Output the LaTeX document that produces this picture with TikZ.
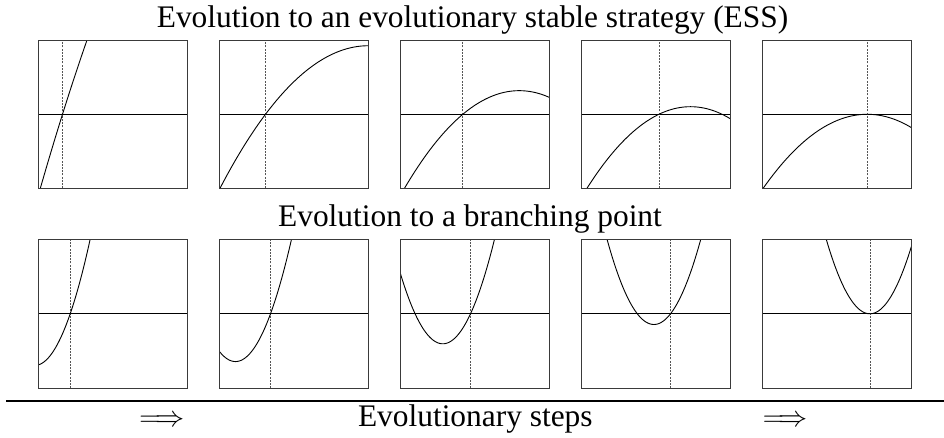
\RequirePackage{fix-cm}
\documentclass[tikz,border=0pt]{standalone}
\usepackage{fontspec}
\setmainfont{Liberation Serif}
\usepackage{xcolor}
\usepackage{tikz}
\usetikzlibrary{positioning}
\definecolor{ink}{HTML}{000000}
\definecolor{rim}{HTML}{3A3A3A}
\definecolor{resid}{HTML}{555555}

\begin{document}
\begin{tikzpicture}[x=1pt,y=1pt,font=\fontsize{31.4}{36}\selectfont,
  panelrim/.style={rim,line width=0.9pt},
  zeroline/.style={ink,line width=0.7pt},
  residline/.style={resid,line width=0.7pt,dash pattern=on 2pt off 1.2pt},
  fitcurve/.style={ink,line width=0.9pt,line join=round},
  steparrow/.style={font=\fontsize{29.2}{34}\selectfont}]
\useasboundingbox (0,0) rectangle (944,438);
% titles of the two rows
\node[anchor=base] (esstitle) at (472.5,410.7) {Evolution to an evolutionary stable strategy (ESS)};
\node[anchor=base] (branchtitle) at (470,211.7) {Evolution to a branching point};
% top row: x0 / slope / curvature
\foreach \k/\xz/\a/\b in {0/24/3.19/-0.0066, 1/46/1.332/-0.00647, 2/62.3/0.837/-0.00742, 3/77.4/0.481/-0.00761, 4/104.7/0/-0.00684} {
\begin{scope}[shift={(38.5+181*\k,323.7)}]
\draw[zeroline] (0,0) -- (149,0);
\draw[residline] (\xz,-74) -- (\xz,74);
\begin{scope}
\clip (0,-74) rectangle (149,74);
\draw[fitcurve] plot[domain=0:149,samples=120] ({\x},{\a*(\x-\xz)+(\b)*(\x-\xz)*(\x-\xz)});
\end{scope}
\draw[panelrim] (0,-74) rectangle (149,74);
\end{scope}}
% bottom row
\foreach \k/\xz/\a/\b in {0/31.7/2.913/0.0411, 1/51/2.73/0.039, 2/70/2.166/0.0391, 3/89/1.288/0.0388, 4/107.4/0/0.0391} {
\begin{scope}[shift={(38.5+181*\k,124.2)}]
\draw[zeroline] (0,0) -- (149,0);
\draw[residline] (\xz,-74.5) -- (\xz,74.5);
\begin{scope}
\clip (0,-74.5) rectangle (149,74.5);
\draw[fitcurve] plot[domain=0:149,samples=120] ({\x},{\a*(\x-\xz)+(\b)*(\x-\xz)*(\x-\xz)});
\end{scope}
\draw[panelrim] (0,-74.5) rectangle (149,74.5);
\end{scope}}
% the time axis
\draw[ink,line width=2pt] (6,37) -- (944,37);
\node[steparrow] (leftarrow) at (162,17.3) {$\Longrightarrow$};
\node[steparrow] (rightarrow) at (785.5,17.3) {$\Longrightarrow$};
\node[anchor=base] (stepslabel) at (475.3,11.3) {Evolutionary steps};
\end{tikzpicture}
\end{document}
